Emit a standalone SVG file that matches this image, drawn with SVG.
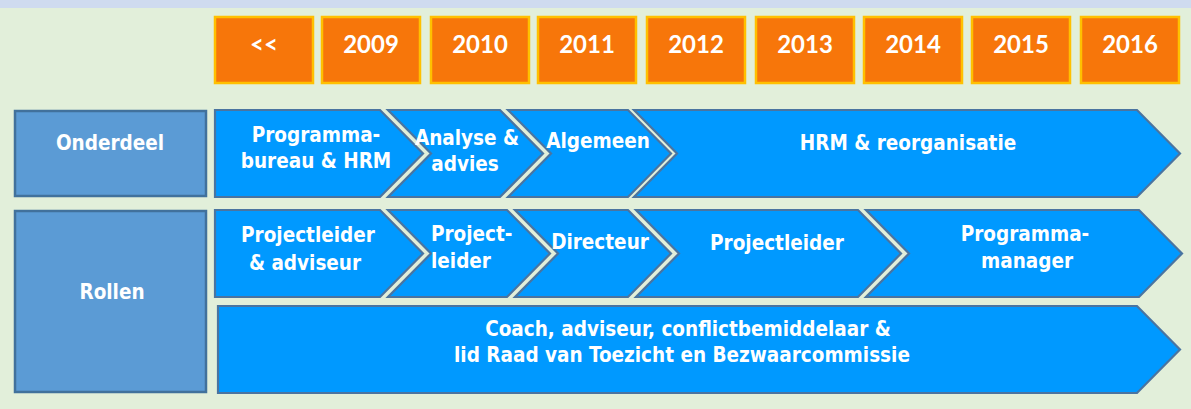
<svg xmlns="http://www.w3.org/2000/svg" width="1191" height="409" viewBox="0 0 1191 409">
<style>
.bg{fill:#E2EFDA}
.yr rect{fill:#F7760A;stroke:#FFC000;stroke-width:2.5}
.yr text{font-family:Lato,"Liberation Sans",sans-serif;font-weight:bold;font-size:24px;fill:#FFFFFF;text-anchor:middle}
.hd{fill:#5B9BD5;stroke:#41719C;stroke-width:2.5}
.ch{fill:#0099FF;stroke:#4A74A0;stroke-width:2.2;stroke-linejoin:miter}
.t{font-family:"DejaVu Sans Condensed","DejaVu Sans",sans-serif;font-weight:bold;font-size:20.5px;fill:#FFFFFF;text-anchor:middle}
.l{text-anchor:start}
</style>
<rect class="bg" x="0" y="0" width="1191" height="409"/>
<rect x="0" y="0" width="1191" height="8" fill="#CFDBEF"/>

<g id="years" class="yr">
<g id="y-prev"><rect x="215" y="17" width="98" height="66"/><text x="264" y="53">&lt;&lt;</text></g>
<g id="y2009"><rect x="322" y="17" width="98" height="66"/><text x="371" y="53">2009</text></g>
<g id="y2010"><rect x="431" y="17" width="98" height="66"/><text x="480" y="53">2010</text></g>
<g id="y2011"><rect x="538" y="17" width="98" height="66"/><text x="587" y="53">2011</text></g>
<g id="y2012"><rect x="647" y="17" width="98" height="66"/><text x="696" y="53">2012</text></g>
<g id="y2013"><rect x="756" y="17" width="98" height="66"/><text x="805" y="53">2013</text></g>
<g id="y2014"><rect x="864" y="17" width="98" height="66"/><text x="913" y="53">2014</text></g>
<g id="y2015"><rect x="972" y="17" width="98" height="66"/><text x="1021" y="53">2015</text></g>
<g id="y2016"><rect x="1081" y="17" width="98" height="66"/><text x="1130" y="53">2016</text></g>
</g>

<g id="onderdeel"><rect class="hd" x="15" y="111" width="191" height="85"/><text class="t" x="110" y="150">Onderdeel</text></g>
<g id="rollen"><rect class="hd" x="15" y="211" width="191" height="181"/><text class="t" x="112" y="299">Rollen</text></g>

<g id="connectors"></g>

<g id="r1c1"><path class="ch" d="M215,110 H380 L423,153.5 L380,197 H215 Z"/>
<text class="t" x="316" y="142">Programma-</text><text class="t" x="316" y="168">bureau &amp; HRM</text></g>
<g id="r1c2"><path class="ch" d="M388,110 H500 L543,153.5 L500,197 H388 L431,153.5 Z"/>
<text class="t" x="467" y="145">Analyse &amp;</text><text class="t" x="465" y="171">advies</text></g>
<g id="r1c3"><path class="ch" d="M508,110 H628 L671,153.5 L628,197 H508 L551,153.5 Z"/>
<text class="t" x="598" y="148">Algemeen</text></g>
<g id="r1c4"><path class="ch" d="M634,110 H1137 L1180,153.5 L1137,197 H634 L677,153.5 Z"/>
<text class="t" x="908" y="150">HRM &amp; reorganisatie</text></g>

<g id="r2c1"><path class="ch" d="M215,210 H380 L423,253.5 L380,297 H215 Z"/>
<text class="t" x="308" y="242">Projectleider</text><text class="t" x="305" y="270">&amp; adviseur</text></g>
<g id="r2c2"><path class="ch" d="M388,210 H507 L550,253.5 L507,297 H388 L431,253.5 Z"/>
<text class="t l" x="431" y="241">Project-</text><text class="t l" x="431" y="268">leider</text></g>
<g id="r2c3"><path class="ch" d="M515,210 H628 L671,253.5 L628,297 H515 L558,253.5 Z"/>
<text class="t" x="600" y="249">Directeur</text></g>
<g id="r2c4"><path class="ch" d="M636,210 H858 L901,253.5 L858,297 H636 L679,253.5 Z"/>
<text class="t" x="777" y="250">Projectleider</text></g>
<g id="r2c5"><path class="ch" d="M866,210 H1139 L1182,253.5 L1139,297 H866 L909,253.5 Z"/>
<text class="t" x="1025" y="241">Programma-</text><text class="t" x="1027" y="268">manager</text></g>

<g id="r3"><path class="ch" d="M218,306 H1137 L1180,349.5 L1137,393 H218 Z"/>
<text class="t" x="688" y="336">Coach, adviseur, conflictbemiddelaar &amp;</text>
<text class="t" x="682" y="362">lid Raad van Toezicht en Bezwaarcommissie</text></g>
</svg>
